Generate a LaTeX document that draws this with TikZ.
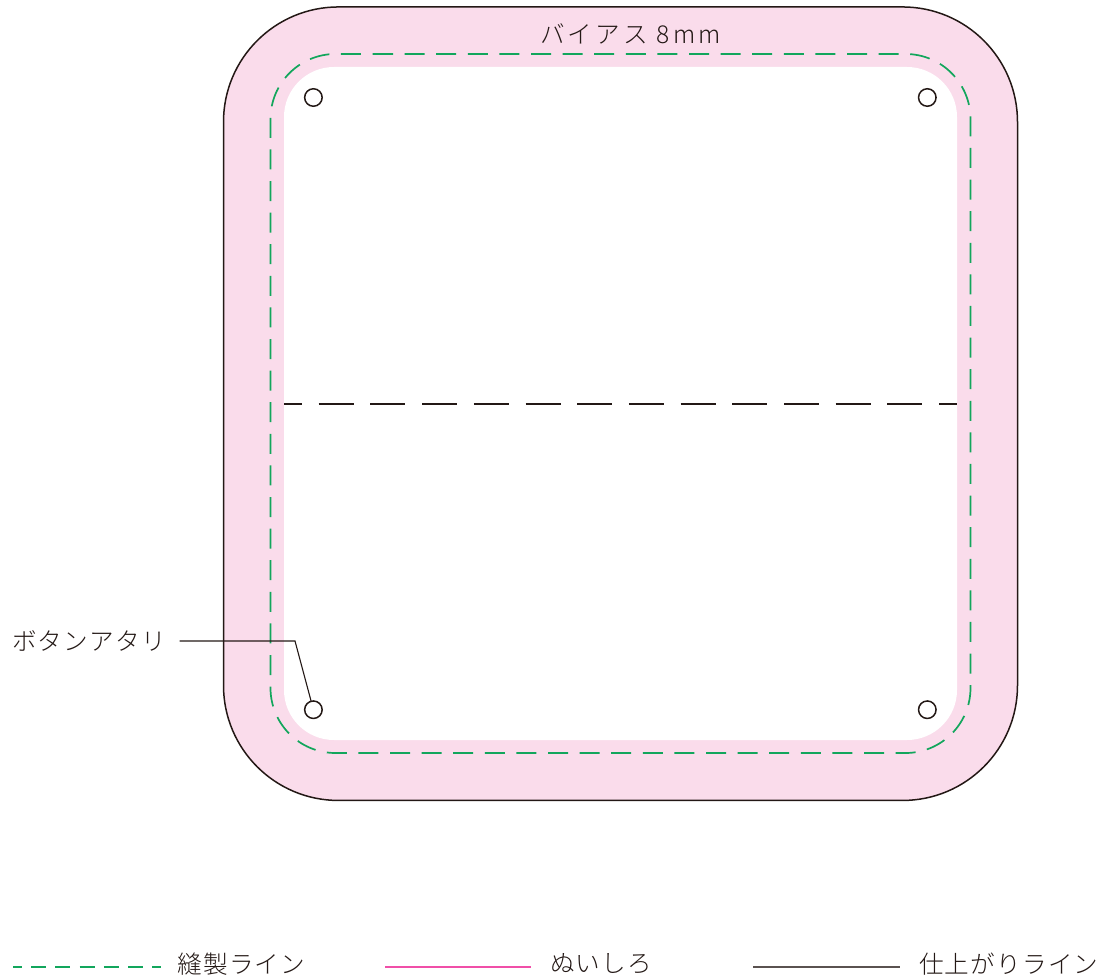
\documentclass[tikz,border=0pt]{standalone}
\usepackage{fontspec}
\setmainfont{Noto Sans CJK JP Light}[LetterSpace=5]
\usetikzlibrary{positioning}
\definecolor{binding}{HTML}{FADCEB}
\definecolor{stitch}{HTML}{12A65C}
\definecolor{seam}{HTML}{F04FA8}
\definecolor{ink}{HTML}{231815}
\newlength{\px}
\setlength{\px}{0.02cm}
\tikzset{
    x=0.02cm, y=-0.02cm, inner sep=0pt, outer sep=0pt, node distance=17\px,
    caption/.style={text=ink, font=\fontsize{14}{14}\selectfont, anchor=west},
    finish/.style={draw=ink, line width=1.5\px},
    leader/.style={draw=ink, line width=1.1\px},
    stitchline/.style={draw=stitch, line width=1.7\px},
    button/.style={circle, draw=ink, line width=1.5\px, fill=white, minimum size=17.5\px},
}
\begin{document}
\begin{tikzpicture}
    \useasboundingbox (0,0) rectangle (1102,980) ; %
% binding
    \node[finish, fill=binding, rectangle, rounded corners=115\px, minimum width=794\px, minimum height=793.5\px] (outer) at (620.5,403.7) {} ; %
    \node[fill=white, rectangle, rounded corners=50\px, minimum width=673\px, minimum height=673\px] (inner) at (620.5,403.5) {} ; %
    \draw[stitchline, dash pattern=on 20\px off 11.6\px, rounded corners=65\px] (373,54) -- (970.5,54) -- (970.5,753) -- (270.5,753) -- (270.5,54) -- (373,54) ; %
    \node[caption, anchor=center] (binding_label) at (630.5,34) {\addfontfeature{LetterSpace=13}バイアス 8mm} ; %
% fold
    \draw[finish, line width=2\px, dash pattern=on 35\px off 16.7\px, dash phase=17\px] (inner.west) -- (inner.east) ; %
% buttons
    \node[button] (button_tl) at (313.4,97.5) {} ; %
    \node[button] (button_tr) at (927.3,97.5) {} ; %
    \node[button] (button_bl) at (313.4,709.7) {} ; %
    \node[button] (button_br) at (927.3,709.7) {} ; %
    \node[caption] (button_label) at (12,641) {ボタンアタリ} ; %
    \coordinate[right=of button_label, xshift=-3\px] (button_lead) ; %
    \coordinate (button_bend) at (295,641) ; %
% edges
    \draw[leader] (button_lead) -- (button_bend) -- (button_bl) ; %
% legend
    \coordinate (stitch_start) at (13,967) ; %
    \coordinate (stitch_end) at (160.5,967) ; %
    \node[caption, right=of stitch_end, yshift=3\px] (stitch_label) {縫製ライン} ; %
    \coordinate (seam_start) at (385,967) ; %
    \coordinate (seam_end) at (531,967) ; %
    \node[caption, right=19\px of seam_end, yshift=3\px] (seam_label) {ぬいしろ} ; %
    \coordinate (finish_start) at (753,967) ; %
    \coordinate (finish_end) at (900,967) ; %
    \node[caption, right=19\px of finish_end, yshift=3\px] (finish_label) {仕上がりライン} ; %
%edges
    \draw[stitchline, dash pattern=on 9\px off 9.2\px on 15\px off 9.2\px on 15\px off 9.2\px on 15\px off 9.2\px on 15\px off 9.2\px on 15\px off 9.2\px on 9\px off 100\px] (stitch_start) -- (stitch_end) ; %
    \draw[draw=seam, line width=2\px] (seam_start) -- (seam_end) ; %
    \draw[finish, draw=ink!75, line width=1.8\px] (finish_start) -- (finish_end) ; %
\end{tikzpicture}
\end{document}
